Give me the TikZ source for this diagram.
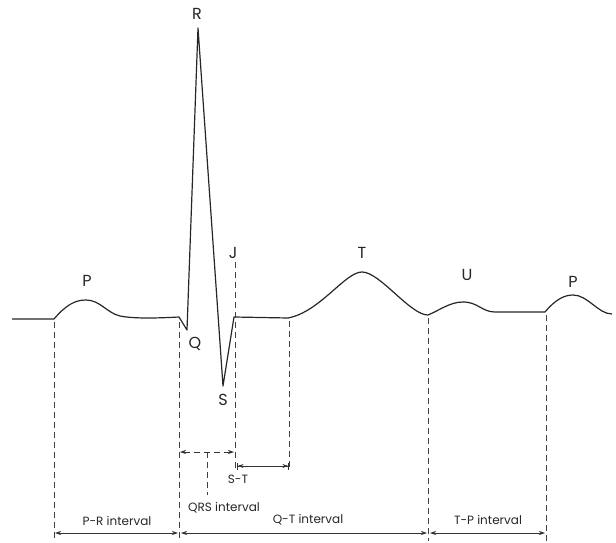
\documentclass[tikz,border=0pt]{standalone}
\usepackage{fontspec}
\setmainfont{Poppins}
\usetikzlibrary{arrows.meta}
\tikzset{
  ecg/.style={line width=1.2pt, line join=round, color=black!85},
  guide/.style={line width=0.6pt, dash pattern=on 6pt off 4pt, color=black!75},
  wlabel/.style={font=\fontsize{16}{16}\selectfont, inner sep=0pt, color=black!85},
  ilabel/.style={font=\fontsize{12}{12}\selectfont, inner sep=0pt, color=black!85},
  dim/.style={line width=0.7pt, color=black!80, {Stealth[length=6pt,width=4pt]}-{Stealth[length=6pt,width=4pt]}},
}
\begin{document}
\begin{tikzpicture}[x=1pt,y=-1pt]
\useasboundingbox (0,0) rectangle (616,543);
% ECG trace
\draw[ecg] (12,319) -- (54,319)
  .. controls (66,305) and (75,300) .. (86,300)
  .. controls (100,300) and (107,313) .. (120,316)
  .. controls (135,319) and (160,318) .. (179,317)
  -- (187,330) -- (198,28) -- (223,386) -- (234,317)
  -- (288,318)
  .. controls (320,312) and (345,272) .. (362,272)
  .. controls (380,272) and (410,315) .. (428,315)
  .. controls (440,310) and (450,302) .. (463,302)
  .. controls (478,302) and (482,312) .. (495,312)
  -- (545,312)
  .. controls (555,300) and (564,295) .. (573,295)
  .. controls (588,295) and (598,314) .. (612,314);
% wave labels
\node[wlabel] (lP1) at (87,281) {P};
\node[wlabel] (lQ) at (195,344) {Q};
\node[wlabel] (lR) at (197,14) {R};
\node[wlabel] (lS) at (223,400) {S};
\node[wlabel] (lJ) at (233,253) {J};
\node[wlabel] (lT) at (362,253) {T};
\node[wlabel] (lU) at (467,275) {U};
\node[wlabel] (lP2) at (573,282) {P};
% guide coordinates
\coordinate (a1) at (54,322);  \coordinate (a2) at (54,541);
\coordinate (b1) at (179,322); \coordinate (b2) at (179,541);
\coordinate (c1) at (235,262); \coordinate (c2) at (235,470);
\coordinate (d1) at (289,321); \coordinate (d2) at (289,470);
\coordinate (e1) at (428,318); \coordinate (e2) at (428,541);
\coordinate (f1) at (546,315); \coordinate (f2) at (546,541);
\coordinate (g1) at (207,452); \coordinate (g2) at (207,495);
\draw[guide] (a1) -- (a2);
\draw[guide] (b1) -- (b2);
\draw[guide] (c1) -- (c2);
\draw[guide] (d1) -- (d2);
\draw[guide] (e1) -- (e2);
\draw[guide] (f1) -- (f2);
\draw[guide] (g1) -- (g2);
% QRS and S-T
\coordinate (q1) at (180,452); \coordinate (q2) at (234,452);
\draw[dim, dash pattern=on 6pt off 4pt] (q1) -- (q2);
\coordinate (s1) at (237,466); \coordinate (s2) at (289,466);
\draw[line width=0.7pt, color=black!80, {Bar[width=7pt]Stealth[length=6pt,width=4pt]}-{Stealth[length=6pt,width=4pt]Bar[width=7pt]}] (s1) -- (s2);
\node[ilabel] (lST) at (238,479) {S-T};
\node[ilabel, anchor=west] (lQRS) at (188,508) {QRS interval};
% bottom intervals
\coordinate (p1) at (55,533); \coordinate (p2) at (178,533);
\coordinate (t1) at (181,533); \coordinate (t2) at (427,533);
\coordinate (u1) at (430,533); \coordinate (u2) at (545,533);
\draw[dim] (p1) -- (p2);
\draw[dim] (t1) -- (t2);
\draw[dim] (u1) -- (u2);
\node[ilabel] (lPR) at (117,521) {P-R interval};
\node[ilabel] (lQT) at (308,520) {Q-T interval};
\node[ilabel] (lTP) at (488,520) {T-P interval};
\end{tikzpicture}
\end{document}
